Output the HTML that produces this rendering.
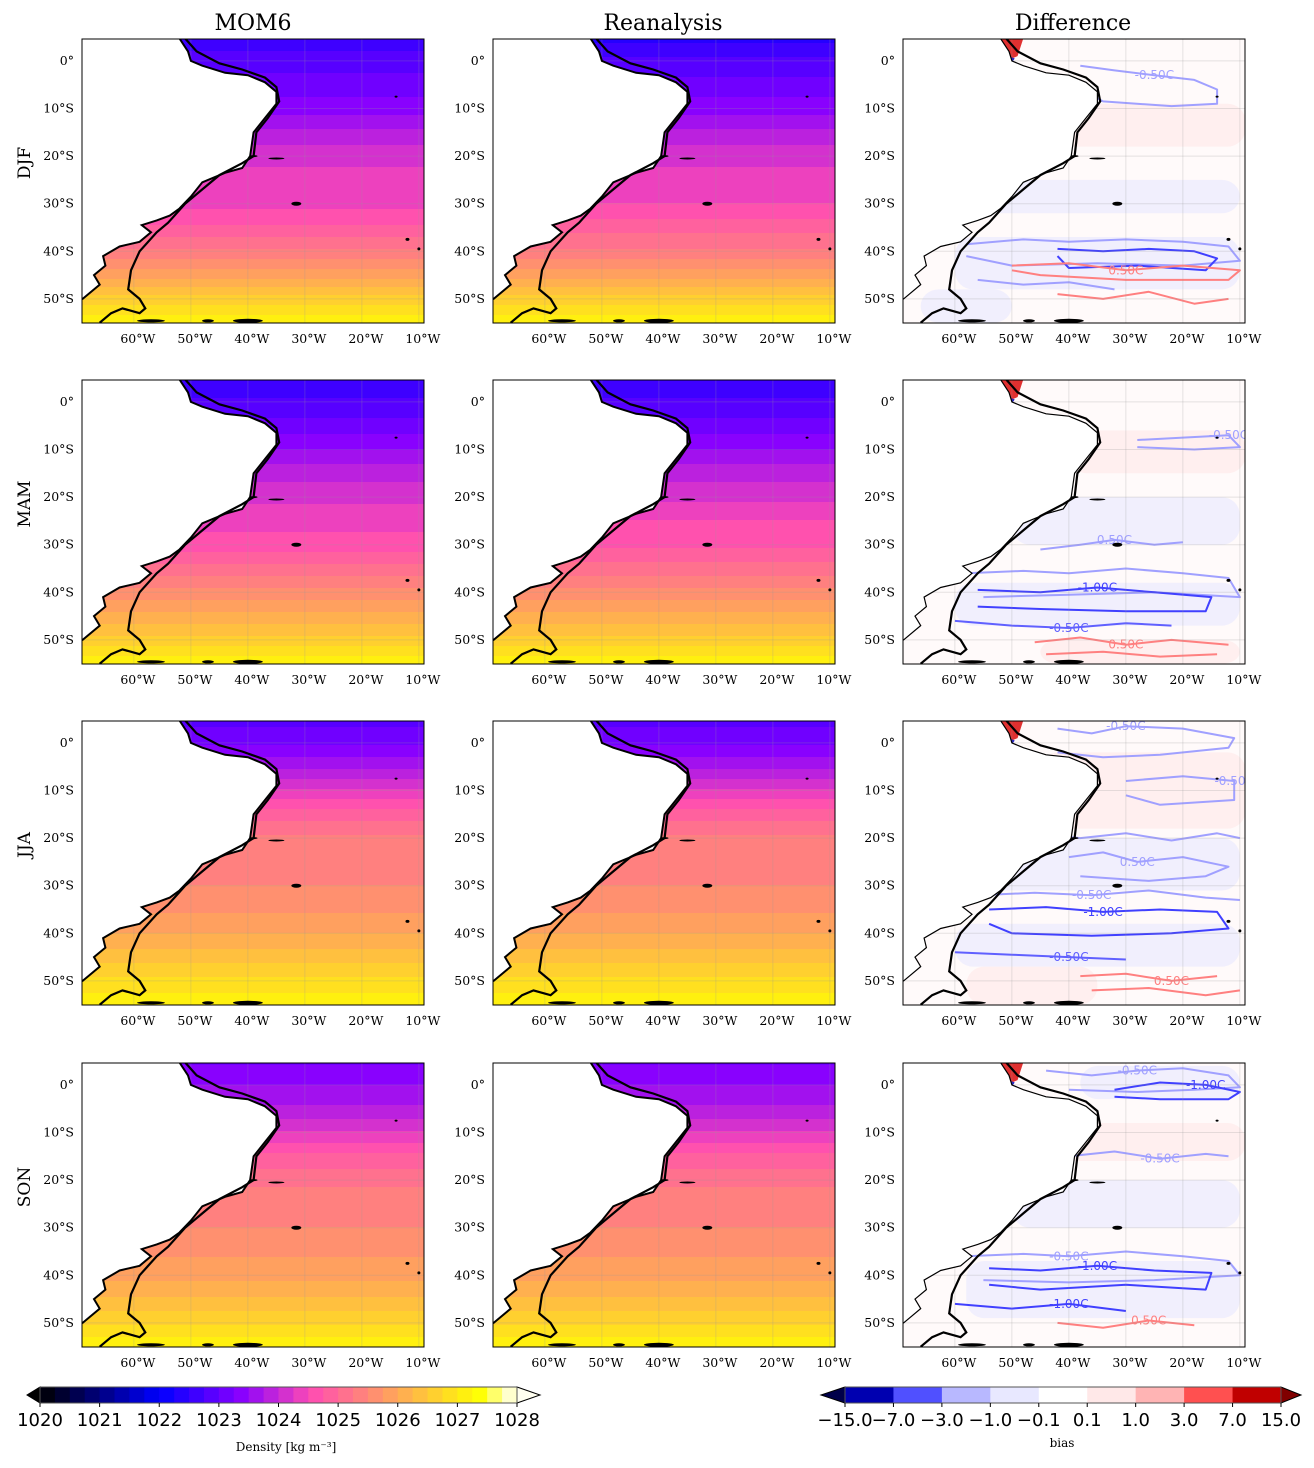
<!DOCTYPE html>
<html><head><meta charset="utf-8">
<style>
html,body{margin:0;padding:0;background:#fff;}
svg{display:block;font-family:"DejaVu Serif","Liberation Serif",serif;}
</style></head>
<body>
<svg id="fig" width="1314" height="1468" viewBox="0 0 1314 1468" xmlns="http://www.w3.org/2000/svg"></svg>
<script>
// ---------- data ----------
const seasons = ["DJF","MAM","JJA","SON"];
const columns = ["MOM6","Reanalysis","Difference"];
const latNodes = [5,0,-5,-10,-15,-20,-25,-30,-35,-40,-45,-50,-55];
const densMOM6_DJF = [1022.5,1022.9,1023.1,1023.4,1023.8,1024.2,1024.3,1024.4,1024.8,1025.3,1025.9,1026.6,1027.2];
const densMOM6_MAM = [1022.5,1022.8,1023.1,1023.5,1023.9,1024.2,1024.4,1024.6,1025.1,1025.6,1026.1,1026.6,1027.2];
const densMOM6_JJA = [1022.9,1023.2,1023.7,1024.3,1024.9,1025.3,1025.4,1025.5,1025.7,1026.0,1026.4,1026.8,1027.2];
const densMOM6_SON = [1023.2,1023.5,1023.8,1024.3,1024.8,1025.2,1025.4,1025.5,1025.7,1025.9,1026.3,1026.7,1027.2];
const densRean_DJF = [1022.4,1022.8,1023.1,1023.4,1023.8,1024.2,1024.3,1024.5,1024.9,1025.3,1025.9,1026.6,1027.2];
const densRean_MAM = [1022.5,1022.8,1023.1,1023.5,1023.9,1024.2,1024.5,1024.7,1025.1,1025.6,1026.1,1026.6,1027.2];
const densRean_JJA = [1022.9,1023.2,1023.7,1024.3,1024.9,1025.3,1025.4,1025.5,1025.7,1026.0,1026.4,1026.8,1027.2];
const densRean_SON = [1023.2,1023.5,1023.8,1024.3,1024.8,1025.2,1025.4,1025.5,1025.7,1025.9,1026.3,1026.7,1027.2];
const latTicks = [0,-10,-20,-30,-40,-50];
const latTickLabels = ["0°","10°S","20°S","30°S","40°S","50°S"];
const lonTicks = [-60,-50,-40,-30,-20,-10];
const lonTickLabels = ["60°W","50°W","40°W","30°W","20°W","10°W"];
const densTicks = [1020,1021,1022,1023,1024,1025,1026,1027,1028];
const biasBounds = ["−15.0","−7.0","−3.0","−1.0","−0.1","0.1","1.0","3.0","7.0","15.0"];
const biasColors = ["#0000b0","#5050ff","#b8b8ff","#e8e8ff","#ffffff","#ffe8e8","#ffb4b4","#ff5050","#c00000"];
// land outline (lon,lat)
const landLon = [-69.2,-52,-50.5,-50,-48,-44,-40,-37,-35,-35,-37,-39,-39.6,-41,-44,-48,-50,-52,-53.7,-56,-58.6,-57,-59,-62.5,-65.4,-65,-67,-66,-69,-69.2];
const landLat = [4.7,4.7,2,0,-1,-2.5,-3,-4.5,-6.5,-9,-12,-15,-20,-22.5,-23.5,-25.5,-28.5,-31,-32.5,-33.5,-34.5,-36,-38,-39,-41,-43,-45,-47,-50,-50];
const shelfLon = [-51,-49,-45,-41,-37,-35,-34.5,-36.5,-38.5,-39,-41,-45,-48,-51,-54,-56,-59,-60.5,-61,-59,-58,-59,-62,-64,-66];
const shelfLat = [4.7,2,-0.5,-1.8,-3.5,-5.5,-8.5,-12,-15,-20,-21.5,-24,-27,-30,-34,-36,-40,-44,-48,-50,-52,-53,-52,-53,-55];
// difference patches per season: [lonW, latN, lonE, latS, colorIndex]
const patchDJF = [[-45,-9,-9,-18,5],[-55,-25,-10,-32,3],[-60,-37,-10,-48,3],[-66,-48,-50,-55,3]];
const patchMAM = [[-40,-6,-9,-15,5],[-50,-20,-10,-30,3],[-60,-38,-10,-47,3],[-45,-50,-10,-55,5]];
const patchJJA = [[-45,-2,-9,-18,5],[-55,-20,-10,-31,3],[-60,-38,-10,-47,3],[-58,-47,-35,-55,5]];
const patchSON = [[-38,4,-10,-3,3],[-45,-8,-9,-16,5],[-50,-20,-10,-30,3],[-58,-37,-10,-49,3]];
// contour lines per season: [color, lon list, lat list, label]
const contDJF = [
 ["#a0a0ff",[-38,-32,-25,-18,-14,-14,-22,-34,-38],[-1,-2,-3,-4,-6,-9,-9.5,-8.5,-6],"-0.50C"],
 ["#a0a0ff",[-58,-48,-40,-30,-20,-12,-10,-20,-35,-50,-58],[-38.5,-37.5,-38,-37.5,-38,-39,-42,-43,-42.5,-43,-41],""],
 ["#4040ff",[-42,-34,-26,-18,-14,-16,-28,-40,-42],[-39.5,-40,-39.5,-40,-41.5,-44,-43,-43.5,-41],""],
 ["#ff8080",[-50,-40,-30,-20,-10,-12,-30,-45,-50],[-43,-42.5,-44,-43,-44,-46,-46,-45,-44],"0.50C"],
 ["#ff8080",[-42,-34,-26,-18,-12],[-49,-50,-48.5,-51,-50],""],
 ["#a0a0ff",[-56,-48,-40,-32],[-46,-47,-46.5,-48],""]
];
const contMAM = [
 ["#a0a0ff",[-28,-20,-12,-10,-18,-28],[-8,-7.5,-7,-9.5,-10,-9.5],"-0.50C"],
 ["#a0a0ff",[-45,-38,-32,-25,-20],[-31,-30,-29,-30,-29.5],"0.50C"],
 ["#a0a0ff",[-58,-48,-40,-30,-20,-12,-10,-25,-40,-55],[-36,-35.5,-36,-35,-36,-37,-41,-40,-40.5,-41],""],
 ["#4040ff",[-56,-45,-35,-25,-15,-16,-30,-45,-56],[-39.5,-40,-39,-40,-41,-44,-44,-43.5,-43],"-1.00C"],
 ["#6060ff",[-60,-50,-40,-30,-22],[-46,-47,-47.5,-46.5,-47],"-0.50C"],
 ["#ff8080",[-46,-38,-30,-22,-12],[-50.5,-49.5,-51,-50,-51],"0.50C"],
 ["#ff8080",[-44,-34,-24,-14],[-53,-52.5,-53.5,-53],""]
];
const contJJA = [
 ["#a0a0ff",[-42,-36,-30,-20,-11,-12,-24,-34,-42],[3,2,3.5,3,1,-1,-2.5,-3,-2],"-0.50C"],
 ["#a0a0ff",[-30,-20,-11,-11,-24,-30],[-8,-7,-8,-12,-13,-11],"-0.50C"],
 ["#a0a0ff",[-46,-38,-30,-22,-14,-10],[-19,-20,-19,-20.5,-19,-20],""],
 ["#a0a0ff",[-40,-34,-28,-20,-12,-16,-26,-38],[-24,-23,-25,-24,-26,-28,-29,-28],"0.50C"],
 ["#a0a0ff",[-56,-46,-36,-26,-16,-10],[-32,-31.5,-32,-31,-32.5,-33],"-0.50C"],
 ["#4040ff",[-54,-44,-34,-24,-14,-12,-22,-36,-50,-54],[-35,-34.5,-35.5,-35,-35.5,-39,-40,-40.5,-40,-38],"-1.00C"],
 ["#6060ff",[-60,-50,-40,-30],[-44,-44.5,-45,-45.5],"-0.50C"],
 ["#ff8080",[-38,-30,-22,-14],[-49,-48.5,-50,-49],"0.50C"],
 ["#ff8080",[-36,-26,-16,-10],[-52,-51.5,-53,-52],""]
];
const contSON = [
 ["#a0a0ff",[-44,-36,-28,-20,-12,-10,-18,-28,-40],[3,2,3,3.5,2,-0.5,-1,-1.5,-1],"-0.50C"],
 ["#4040ff",[-32,-24,-16,-10,-12,-24,-32],[-1,0.5,0,-1.5,-3,-3,-2.5],"-1.00C"],
 ["#a0a0ff",[-40,-32,-24,-16,-12],[-15,-14,-15.5,-14.5,-15],"-0.50C"],
 ["#a0a0ff",[-58,-48,-40,-30,-20,-12,-10,-25,-40,-55],[-36,-35.5,-36,-35,-36,-37,-40,-41,-41.5,-41],"-0.50C"],
 ["#4040ff",[-54,-45,-35,-25,-15,-16,-30,-45,-54],[-38.5,-39,-38,-39,-39.5,-43,-42,-43,-42],"-1.00C"],
 ["#4040ff",[-60,-50,-40,-30],[-46,-47,-46,-47.5],"-1.00C"],
 ["#ff8080",[-42,-34,-26,-18],[-50,-51,-49.5,-50.5],"0.50C"]
];
const densData = {MOM6:[densMOM6_DJF,densMOM6_MAM,densMOM6_JJA,densMOM6_SON],Reanalysis:[densRean_DJF,densRean_MAM,densRean_JJA,densRean_SON]};
const patchData = [patchDJF,patchMAM,patchJJA,patchSON];
const contData = [contDJF,contMAM,contJJA,contSON];

// ---------- helpers ----------
const NS="http://www.w3.org/2000/svg";
const svg=document.getElementById('fig');
function mk(tag,attrs,parent){const e=document.createElementNS(NS,tag);for(const k in attrs)e.setAttribute(k,attrs[k]);(parent||svg).appendChild(e);return e;}
function clamp(v){return Math.max(0,Math.min(1,v));}
function gnuplot2(x){
  const r=clamp(x/0.32-0.78125), g=clamp(2*x-0.84);
  let b; if(x<0.25)b=4*x; else if(x<0.92)b=-2*x+1.84; else b=x/0.08-11.5; b=clamp(b);
  return `rgb(${Math.round(r*255)},${Math.round(g*255)},${Math.round(b*255)})`;
}
function densColor(v){const q=Math.floor((v-1020)/0.25)*0.25+0.125+1020;return gnuplot2(clamp((q-1020)/8));}
function interpLat(arr,lat){
  for(let i=0;i<latNodes.length-1;i++){const a=latNodes[i],b=latNodes[i+1];if(lat<=a&&lat>=b){const t=(a-lat)/(a-b);return arr[i]+(arr[i+1]-arr[i])*t;}}
  return lat>latNodes[0]?arr[0]:arr[arr.length-1];
}
const PW=342,PH=284,LON0=-69.1,LAT0=4.6,SX=5.7,SY=4.76;
const colX=[82,493,903], rowY=[39,380,721,1063];

function panel(ci,ri){
  const px=colX[ci],py=rowY[ri];
  const X=lon=>px+(lon-LON0)*SX, Y=lat=>py+(LAT0-lat)*SY;
  const g=mk('g',{});
  
  
  const cid=`clip${ci}${ri}`;
  const cp=mk('clipPath',{id:cid},g); mk('rect',{x:px,y:py,width:PW,height:PH},cp);
  const inner=mk('g',{'clip-path':`url(#${cid})`},g);
  if(ci<2){
    const arr=densData[columns[ci]][ri];
    for(let yy=0;yy<PH;yy+=2){
      const lat=LAT0-(yy+1)/SY;
      mk('rect',{x:px,y:py+yy,width:PW,height:2.6,fill:densColor(interpLat(arr,lat))},inner);
    }
  } else {
    mk('rect',{x:px,y:py,width:PW,height:PH,fill:'#fffafa'},inner);
    patchData[ri].forEach(p=>{
      const e=mk('rect',{x:X(p[0]),y:Y(p[1]),width:(p[2]-p[0])*SX,height:(p[1]-p[3])*SY,rx:18,fill:biasColors[p[4]],opacity:0.6},inner);
      
      
    });
    contData[ri].forEach(c=>{
      const pts=c[1].map((lo,i)=>`${X(lo).toFixed(1)},${Y(c[2][i]).toFixed(1)}`).join(' ');
      const pl=mk('polyline',{points:pts,fill:'none',stroke:c[0],'stroke-width':2,'stroke-linejoin':'round'},inner);
      
      
      if(c[3]){const t=mk('text',{x:X(c[1][2]),y:Y(c[2][2])+4,fill:c[0],'font-size':12,'text-anchor':'middle','font-family':'DejaVu Sans,Liberation Sans,sans-serif'},inner);t.textContent=c[3];}
    });
    mk('path',{d:`M${X(-52)},${Y(4.7)} L${X(-48)},${Y(4.7)} L${X(-49)},${Y(1)} L${X(-51)},${Y(0)} Z`,fill:'#e03030'},inner);
    mk('path',{d:`M${X(-51.5)},${Y(1.5)} L${X(-49.5)},${Y(0.5)} L${X(-50.5)},${Y(-1.2)} Z`,fill:'#2020c0'},inner);
  }
  lonTicks.forEach(l=>mk('line',{x1:X(l),x2:X(l),y1:py,y2:py+PH,stroke:'#999','stroke-opacity':0.25,'stroke-width':1},inner));
  latTicks.forEach(l=>mk('line',{x1:px,x2:px+PW,y1:Y(l),y2:Y(l),stroke:'#999','stroke-opacity':0.25,'stroke-width':1},inner));
  const lp=landLon.map((lo,i)=>`${X(lo).toFixed(1)},${Y(landLat[i]).toFixed(1)}`).join(' ');
  const land=mk('polygon',{points:lp,fill:'#fff',stroke:'#000','stroke-width':ci<2?2:1.2},inner);
  
  
  const sp=shelfLon.map((lo,i)=>`${X(lo).toFixed(1)},${Y(shelfLat[i]).toFixed(1)}`).join(' ');
  const shelf=mk('polyline',{points:sp,fill:'none',stroke:'#000','stroke-width':2.2},inner);
  
  
  [[-31.5,-30,10,4],[-39,-20,8,2],[-35,-20.5,16,2],[-57,-54.6,28,3],[-47,-54.6,12,3],[-40,-54.6,30,4],[-12,-37.5,4,3],[-10,-39.5,3,3],[-14,-7.5,3,2]].forEach(s=>{
    mk('ellipse',{cx:X(s[0]),cy:Y(s[1]),rx:s[2]/2,ry:s[3]/2,fill:'#000'},inner);
  });
  mk('rect',{x:px,y:py,width:PW,height:PH,fill:'none',stroke:'#000','stroke-width':1},g);
  latTicks.forEach((l,i)=>{const t=mk('text',{x:px-8,y:Y(l)+4,'font-size':12.5,'text-anchor':'end'},g);t.textContent=latTickLabels[i];
    });
  lonTicks.forEach((l,i)=>{const t=mk('text',{x:X(l)+4,y:py+PH+20,'font-size':12.5,'text-anchor':'middle'},g);t.textContent=lonTickLabels[i];
    });
}
for(let r=0;r<4;r++)for(let c=0;c<3;c++)panel(c,r);

[253,663,1073].forEach((x,i)=>{const t=mk('text',{x:x,y:30,'font-size':22,'text-anchor':'middle'});t.textContent=columns[i];
  });
rowY.forEach((y,i)=>{const cy=y+PH/2-18;const t=mk('text',{x:0,y:0,'font-size':17,'text-anchor':'middle',transform:`translate(30,${cy}) rotate(-90)`});t.textContent=seasons[i];
  });

(function(){
  const x0=40,x1=517,y0=1387,h=16;
  const g=mk('g',{});
  const sx=v=>x0+(v-1020)/8*(x1-x0);
  for(let v=1020;v<1028;v+=0.25){mk('rect',{x:sx(v),y:y0,width:(x1-x0)/32+0.5,height:h,fill:densColor(v+0.01)},g);}
  mk('polygon',{points:`${x0},${y0} ${x0},${y0+h} 27,${y0+h/2}`,fill:'#000',stroke:'#000'},g);
  mk('polygon',{points:`${x1},${y0} ${x1},${y0+h} 540,${y0+h/2}`,fill:'#fffff0',stroke:'#000'},g);
  mk('rect',{x:x0,y:y0,width:x1-x0,height:h,fill:'none',stroke:'#555'},g);
  densTicks.forEach(v=>{mk('line',{x1:sx(v),x2:sx(v),y1:y0+h,y2:y0+h+4,stroke:'#000'},g);
    const t=mk('text',{x:sx(v),y:y0+h+23,'font-size':18,'text-anchor':'middle','font-family':'DejaVu Sans,Liberation Sans,sans-serif'},g);t.textContent=v;});
  const t=mk('text',{x:286,y:1451,'font-size':12,'text-anchor':'middle'},g);t.textContent='Density [kg m⁻³]';
})();
(function(){
  const x0=845,x1=1281,y0=1387,h=16,w=(x1-x0)/9;
  const g=mk('g',{});
  biasColors.forEach((c,i)=>mk('rect',{x:x0+i*w,y:y0,width:w+0.5,height:h,fill:c},g));
  mk('polygon',{points:`${x0},${y0} ${x0},${y0+h} 821,${y0+h/2}`,fill:'#00004a',stroke:'#000'},g);
  mk('polygon',{points:`${x1},${y0} ${x1},${y0+h} 1301,${y0+h/2}`,fill:'#800000',stroke:'#000'},g);
  mk('rect',{x:x0,y:y0,width:x1-x0,height:h,fill:'none',stroke:'#555'},g);
  biasBounds.forEach((b,i)=>{const x=x0+i*w;mk('line',{x1:x,x2:x,y1:y0+h,y2:y0+h+4,stroke:'#000'},g);
    const t=mk('text',{x:x,y:y0+h+23,'font-size':18,'text-anchor':'middle','font-family':'DejaVu Sans,Liberation Sans,sans-serif'},g);t.textContent=b;});
  const t=mk('text',{x:1062,y:1447,'font-size':12,'text-anchor':'middle'},g);t.textContent='bias';
})();
</script>
</body></html>
